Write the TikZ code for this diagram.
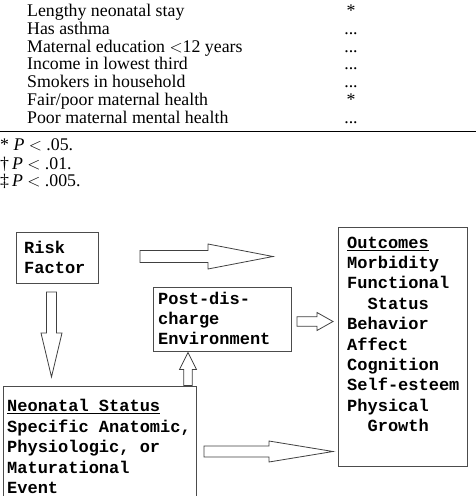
\documentclass[tikz,border=0pt]{standalone}
\usepackage{fontspec}
\newfontfamily\diagmono{Liberation Mono}
\newfontfamily\tabserif{Liberation Serif}
\usetikzlibrary{calc}

\tikzset{
  diagbox/.style={draw=black!70, line width=0.9pt, inner sep=0pt, anchor=north west},
  diagtext/.style={font=\diagmono\bfseries\fontsize{17}{20.4}\selectfont,
                   align=left, inner sep=0pt, anchor=north west},
  tabtext/.style={font=\tabserif\fontsize{17.8}{17.9}\selectfont, inner sep=0pt},
  arrowline/.style={draw=black!75, line width=0.8pt, fill=white, line join=miter}
}
% block arrow: from, to, shaft half width, head half width, head length
\newcommand{\blockarrow}[5]{%
  \coordinate (hb) at ($(#2)!#5!(#1)$);
  \draw[arrowline] ($(#1)!#3!90:(#2)$) -- ($(hb)!#3!-90:(#1)$) -- ($(hb)!#4!-90:(#1)$)
    -- (#2) -- ($(hb)!#4!90:(#1)$) -- ($(hb)!#3!90:(#1)$) -- ($(#1)!#3!-90:(#2)$) -- cycle;}

\begin{document}
\begin{tikzpicture}[x=1pt,y=-1pt]
\useasboundingbox (0,0) rectangle (476,496);

% end of the table
\node[tabtext, align=left, anchor=north west] (rows) at (27,3.5)
      {\strut Lengthy neonatal stay\\Has asthma\\Maternal education $<$12 years\\
       Income in lowest third\\Smokers in household\\Fair/poor maternal health\\
       Poor maternal mental health};
\node[tabtext, align=center, anchor=north] (marks) at (351,3.5)
      {\strut *\\...\\...\\...\\...\\*\\...};
\draw[line width=1pt] (0,131.5) -- (476,131.5);
\node[tabtext, font=\tabserif\fontsize{17.8}{17.6}\selectfont, align=left, anchor=north west] (notes) at (0,138.2)
      {\strut * \textit{P} $<$ .05.\\\textdagger\,\textit{P} $<$ .01.\\\textdaggerdbl\,\textit{P} $<$ .005.};

% arrows
\coordinate (rf-out) at (140,256.5);  \coordinate (rf-tip) at (273,256.5);
\coordinate (rf-down) at (51.5,292);  \coordinate (neo-tip) at (51.5,377);
\coordinate (post-out) at (297,321.5); \coordinate (out-tip) at (333,321.5);
\coordinate (neo-up) at (188,385.5);  \coordinate (post-tip) at (188,352.5);
\coordinate (neo-out) at (204,451.5); \coordinate (out-low) at (333,451.5);
\blockarrow{rf-out}{rf-tip}{6pt}{12.5pt}{65pt}
\blockarrow{rf-down}{neo-tip}{5pt}{10.5pt}{44pt}
\blockarrow{post-out}{out-tip}{4.7pt}{9pt}{16pt}
\blockarrow{neo-up}{post-tip}{4.2pt}{8.5pt}{17pt}
\blockarrow{neo-out}{out-low}{5.5pt}{10.5pt}{64pt}

% boxes
\node[diagbox, minimum width=82pt, minimum height=51pt] (riskbox) at (16,232) {};
\node[diagtext] (risk) at (24,239) {\strut Risk\\Factor};
\node[diagbox, minimum width=138pt, minimum height=64pt] (postbox) at (153,287) {};
\node[diagtext] (post) at (158,289.7) {\strut Post-dis-\\charge\\Environment};
\node[diagbox, minimum width=129pt, minimum height=239pt] (outbox) at (338,227) {};
\node[diagtext] (outcomes) at (347,233.7)
      {\strut\underline{Outcomes}\\Morbidity\\Functional\\\phantom{xx}Status\\Behavior\\
       Affect\\Cognition\\Self-esteem\\Physical\\\phantom{xx}Growth};
\node[diagbox, minimum width=193pt, minimum height=130pt] (neobox) at (3,385.5) {};
\node[diagtext] (neonatal) at (7,397.4)
      {\strut\underline{Neonatal Status}\\Specific Anatomic,\\Physiologic, or\\Maturational\\Event};
\end{tikzpicture}
\end{document}
